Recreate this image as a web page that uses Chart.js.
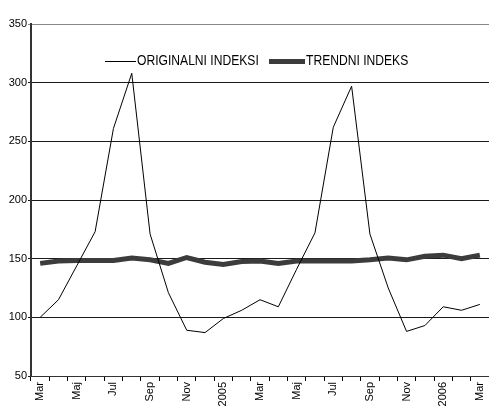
<!DOCTYPE html>
<html>
<head>
<meta charset="utf-8">
<script src="https://cdn.jsdelivr.net/npm/chart.js@4/dist/chart.umd.min.js"></script>
<style>
html,body{margin:0;padding:0;background:#fff;}
#wrap{width:489px;height:408px;}
</style>
</head>
<body>
<div id="wrap"><canvas id="c" width="489" height="408"></canvas></div>
<script>
const categories = ['Mar','Apr','Maj','Jun','Jul','Avg','Sep','Okt','Nov','Dec','2005','Feb',
                    'Mar','Apr','Maj','Jun','Jul','Avg','Sep','Okt','Nov','Dec','2006','Feb','Mar'];
const tickLabels = ['Mar','','Maj','','Jul','','Sep','','Nov','','2005','',
                    'Mar','','Maj','','Jul','','Sep','','Nov','','2006','','Mar'];
const originalIndex = [100,115,144,173,261,308,171,121,89,87,99,106,
                       115,109,141,172,262,297,171,125,88,93,109,106,111];
const trendIndex = [146,148,148.5,148.5,148.5,150.5,149,146,151,147,145,147.5,
                    148,146,148,148,148,148,149,150.5,149,152,153,150,153];
const yTicks = [50,100,150,200,250,300,350];
const seriesNames = ['ORIGINALNI INDEKSI','TRENDNI INDEKS'];

const legendPlugin = {
  id: 'insideLegend',
  afterDraw(chart) {
    const ctx = chart.ctx;
    const ds = chart.data.datasets;
    const y = 61;
    const lineLens = [31, 36];
    const starts = [105, 269];
    ctx.save();
    ctx.font = '14px "Liberation Sans", Arial, sans-serif';
    ctx.textBaseline = 'middle';
    ds.forEach((d, i) => {
      const x0 = starts[i];
      ctx.strokeStyle = d.borderColor;
      ctx.lineWidth = d.borderWidth;
      ctx.beginPath();
      ctx.moveTo(x0, y + 0.5);
      ctx.lineTo(x0 + lineLens[i], y + 0.5);
      ctx.stroke();
      ctx.fillStyle = '#000';
      const tx = x0 + lineLens[i] + 1;
      ctx.save();
      ctx.translate(tx, y);
      ctx.scale(0.865, 1);
      ctx.fillText(d.label, 0, 0);
      ctx.restore();
    });
    ctx.restore();
  }
};

new Chart(document.getElementById('c'), {
  type: 'line',
  data: {
    labels: tickLabels,
    datasets: [
      {
        label: seriesNames[0],
        data: originalIndex,
        borderColor: '#000000',
        borderWidth: 1,
        pointRadius: 0,
        tension: 0,
        order: 1
      },
      {
        label: seriesNames[1],
        data: trendIndex,
        borderColor: '#3c3c3c',
        borderWidth: 5,
        pointRadius: 0,
        tension: 0,
        order: 2
      }
    ]
  },
  options: {
    responsive: false,
    animation: false,
    devicePixelRatio: 1,
    layout: { padding: { top: 24, right: 0, left: 0, bottom: 0 } },
    plugins: {
      legend: { display: false },
      tooltip: { enabled: false }
    },
    scales: {
      x: {
        offset: true,
        grid: {
          offset: true,
          drawOnChartArea: false,
          drawTicks: true,
          tickLength: 5,
          color: '#000'
        },
        border: { color: '#333', width: 1 },
        ticks: {
          autoSkip: false,
          maxRotation: 90,
          minRotation: 90,
          padding: 1,
          color: '#000',
          font: { family: '"Liberation Sans", Arial, sans-serif', size: 11 }
        },
        afterFit(scale) {
          scale.height = 32;
          scale.paddingLeft = 0;
          scale.paddingRight = 0;
        }
      },
      y: {
        min: 50,
        max: 350,
        afterBuildTicks(scale) { scale.ticks = yTicks.map(v => ({ value: v })); },
        grid: {
          color: (c) => c.tick && c.tick.value === 350 ? '#888' : '#1a1a1a',
          lineWidth: 1,
          tickLength: 3
        },
        border: { color: '#333', width: 2 },
        ticks: {
          padding: 1,
          color: '#000',
          font: { family: '"Liberation Sans", Arial, sans-serif', size: 11 }
        },
        afterFit(scale) {
          scale.width = 31;
          scale.paddingTop = 0;
          scale.paddingBottom = 0;
        }
      }
    }
  },
  plugins: [legendPlugin]
});
</script>
</body>
</html>
